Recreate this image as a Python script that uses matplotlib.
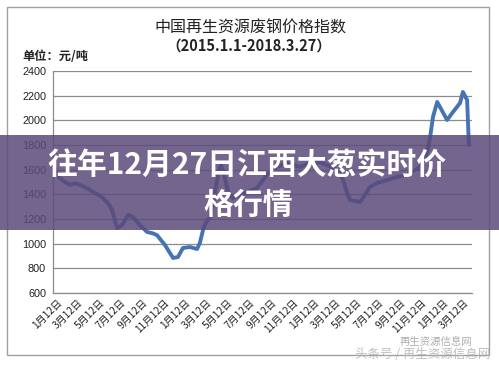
import matplotlib
matplotlib.use("Agg")
import matplotlib.pyplot as plt
import pandas as pd
from matplotlib.patches import Rectangle

plt.rcParams['font.family'] = ['Noto Sans CJK SC', 'DejaVu Sans']

# 价格指数 (元/吨)
dates = ["2015-01-01", "2015-01-18", "2015-02-04", "2015-02-18", "2015-03-05",
         "2015-03-19", "2015-04-08", "2015-04-25", "2015-05-10", "2015-05-23",
         "2015-06-08", "2015-06-18", "2015-07-02", "2015-07-16", "2015-08-02",
         "2015-08-16", "2015-09-05", "2015-09-25", "2015-10-10", "2015-10-23",
         "2015-11-15", "2015-12-08", "2015-12-22", "2016-01-05", "2016-01-25",
         "2016-02-14", "2016-02-22", "2016-03-02", "2016-03-08", "2016-03-22",
         "2016-03-30", "2016-04-05", "2016-04-14", "2016-04-22", "2016-05-01",
         "2016-05-12", "2016-05-26", "2016-06-15", "2016-07-05", "2016-08-02",
         "2016-08-31", "2016-09-28", "2016-10-27", "2016-12-02", "2016-12-31",
         "2017-01-28", "2017-02-17", "2017-03-18", "2017-04-04", "2017-04-15",
         "2017-04-23", "2017-05-22", "2017-05-30", "2017-06-19", "2017-07-09",
         "2017-08-07", "2017-09-04", "2017-10-02", "2017-11-08", "2017-11-28",
         "2017-12-07", "2017-12-15", "2017-12-27", "2018-01-04", "2018-01-24",
         "2018-02-10", "2018-03-02", "2018-03-10", "2018-03-22", "2018-03-27"]
prices = [1640, 1540, 1500, 1476, 1490,
          1476, 1450, 1419, 1395, 1370,
          1320, 1273, 1127, 1151, 1233,
          1216, 1151, 1095, 1085, 1070,
          989, 884, 892, 965, 973,
          957, 1005, 1111, 1160, 1216,
          1330, 1419, 1560, 1640, 1560,
          1420, 1370, 1400, 1419, 1451,
          1560, 1622, 1654, 1622, 1654,
          1660, 1638, 1597, 1516, 1411,
          1354, 1338, 1370, 1460, 1492,
          1516, 1541, 1557, 1622, 1735,
          1865, 2027, 2149, 2108, 2003,
          2068, 2141, 2230, 2165, 1800]

tick_dates = ["2015-01-12", "2015-03-12", "2015-05-12", "2015-07-12", "2015-09-12",
              "2015-11-12", "2016-01-12", "2016-03-12", "2016-05-12", "2016-07-12",
              "2016-09-12", "2016-11-12", "2017-01-12", "2017-03-12", "2017-05-12",
              "2017-07-12", "2017-09-12", "2017-11-12", "2018-01-12", "2018-03-12"]
tick_labels = ["1月12日", "3月12日", "5月12日", "7月12日", "9月12日", "11月12日",
               "1月12日", "3月12日", "5月12日", "7月12日", "9月12日", "11月12日",
               "1月12日", "3月12日", "5月12日", "7月12日", "9月12日", "11月12日",
               "1月12日", "3月12日"]
y_ticks = [600, 800, 1000, 1200, 1400, 1600, 1800, 2000, 2200, 2400]

x = pd.to_datetime(dates)

fig = plt.figure(figsize=(4.99, 3.67), dpi=100)
fig.patch.set_facecolor("white")
ax = fig.add_axes([0.1062, 0.2016, 0.8398, 0.6049])

ax.plot(x, prices, color="#4674b2", lw=2.8, solid_joinstyle="round",
        solid_capstyle="round", zorder=3)

ax.set_ylim(600, 2400)
ax.set_yticks(y_ticks)
ax.set_yticklabels([str(v) for v in y_ticks], fontsize=7.8, color="#222222",
                   family=["Liberation Sans", "DejaVu Sans"])
ax.set_xlim(pd.Timestamp("2015-01-01"), pd.Timestamp("2018-04-05"))
ax.set_xticks(pd.to_datetime(tick_dates))
ax.set_xticklabels(tick_labels, rotation=45, ha="right", va="top",
                   rotation_mode="anchor", fontsize=7.3, fontweight="medium",
                   color="#222222")
ax.tick_params(length=0, pad=3)
ax.tick_params(axis="y", pad=5)
ax.grid(axis="y", color="#8c8c8c", lw=0.9)
for s in ["top", "right"]:
    ax.spines[s].set_visible(False)
for s in ["left", "bottom"]:
    ax.spines[s].set_color("#8c8c8c")
    ax.spines[s].set_linewidth(0.9)

# outer frame
fig.add_artist(Rectangle((7 / 499, 1 - 355 / 367), 482 / 499, 348 / 367,
                         transform=fig.transFigure, fill=False,
                         edgecolor="#a0a0a0", lw=1))

fig.text(0.501, 1 - 28 / 367, "中国再生资源废钢价格指数", ha="center", va="center",
         fontsize=11.5, color="#222222")
fig.text(0.499, 1 - 46 / 367, "（2015.1.1-2018.3.27）", ha="center", va="center",
         fontsize=10.5, fontweight="bold", color="#222222")
fig.text(22 / 499, 1 - 57 / 367, "单位：元/吨", ha="left", va="center",
         fontsize=8.8, fontweight="bold", color="#222222")

# banner overlay
fig.add_artist(Rectangle((0, 1 - 230 / 367), 1, 95 / 367,
                         transform=fig.transFigure, facecolor="#5b4a7a",
                         alpha=0.85, edgecolor="none", zorder=10))
fig.text(0.495, 1 - 166 / 367, "往年12月27日江西大葱实时价", ha="center", va="center",
         fontsize=21.5, fontweight="bold", color="white", zorder=11)
fig.text(0.497, 1 - 205 / 367, "格行情", ha="center", va="center",
         fontsize=21.5, fontweight="bold", color="white", zorder=11)

# watermark
fig.text(400 / 499, 1 - 342 / 367, "再生资源信息网", ha="left", va="center",
         fontsize=7.5, color="#9a9a9a", alpha=0.8)
fig.text(490 / 499, 1 - 354 / 367, "头条号 / 再生资源信息网", ha="right", va="center",
         fontsize=9, color="#b0b0b0", alpha=0.8)

fig.savefig("out.png", dpi=100)
